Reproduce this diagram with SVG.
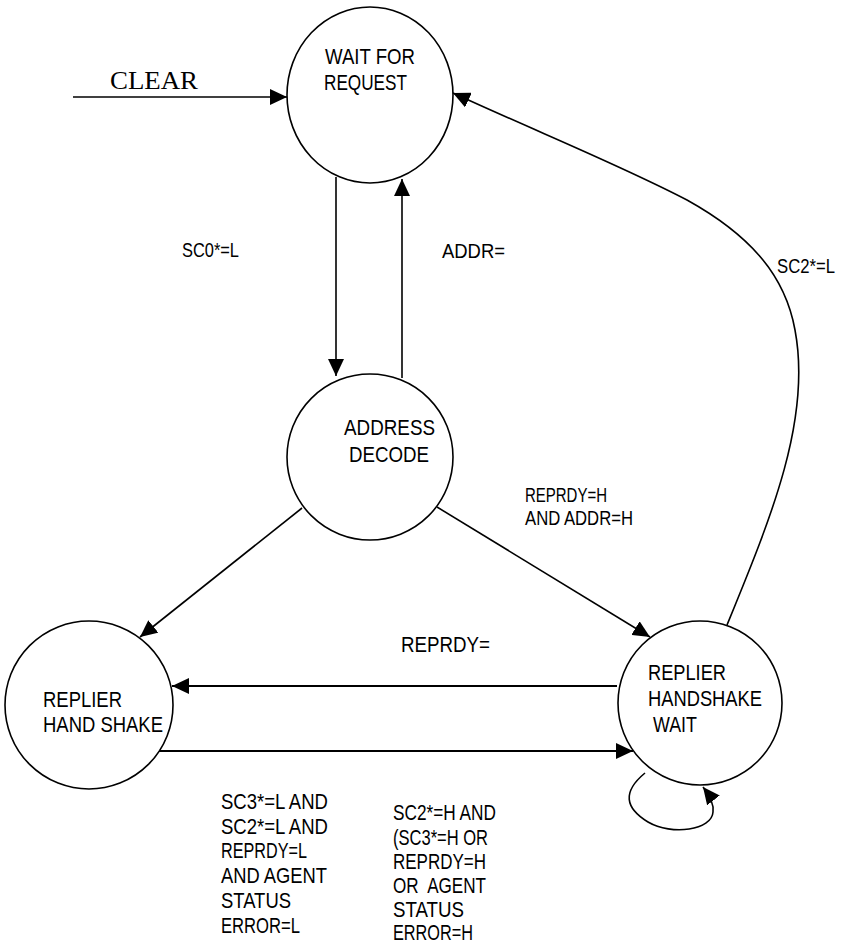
<svg xmlns="http://www.w3.org/2000/svg" width="845" height="945" viewBox="0 0 845 945">
<style>
.node{fill:#fff;stroke:#000;stroke-width:1.6}
.t{font-family:"Liberation Sans",Arial,sans-serif;font-size:22px;fill:#000}
.s{font-size:20px}
.serif{font-family:"Liberation Serif","Times New Roman",serif;font-size:25px;fill:#000}
.c{fill:none;stroke:#000;stroke-width:1.6;marker-end:url(#ah)}
.thick{stroke-width:2.2}
</style>
<defs>
<marker id="ah" markerUnits="userSpaceOnUse" markerWidth="17" markerHeight="16" viewBox="0 0 17 16" refX="17" refY="8" orient="auto">
<path d="M0,0 L17,8 L0,16 Z" fill="#000"/>
</marker>
</defs>
<rect width="845" height="945" fill="#fff"/>
<g id="connectors">
<path class="c" d="M73,97 L287,97"/>
<path class="c" d="M336,177 L336,376"/>
<path class="c" d="M402,378 L402,179"/>
<path class="c" d="M302,508 L140,637"/>
<path class="c" d="M437,507 L650,637"/>
<path class="c thick" d="M617,686 L172,686"/>
<path class="c thick" d="M157,751 L633,751"/>
<path class="c" d="M727,625 C770,520 812,420 795,330 C785,275 750,235 687,200 C620,165 540,133 453,93"/>
<path class="c" d="M645,773 C622,792 625,808 648,822 C672,836 712,830 713,812 C714,805 710,796 703,787"/>
</g>
<g id="clear-label">
<text class="serif" x="110" y="89" textLength="88" lengthAdjust="spacingAndGlyphs">CLEAR</text>
</g>
<g id="wait-for-request">
<ellipse class="node" cx="370" cy="95" rx="83" ry="88"/>
<text class="t" x="325" y="64" textLength="90" lengthAdjust="spacingAndGlyphs">WAIT FOR</text>
<text class="t" x="324" y="90" textLength="83" lengthAdjust="spacingAndGlyphs">REQUEST</text>
</g>
<g id="address-decode">
<circle class="node" cx="370" cy="457" r="83"/>
<text class="t" x="344" y="435" textLength="91" lengthAdjust="spacingAndGlyphs">ADDRESS</text>
<text class="t" x="349" y="462" textLength="80" lengthAdjust="spacingAndGlyphs">DECODE</text>
</g>
<g id="replier-hand-shake">
<circle class="node" cx="89" cy="705" r="84"/>
<text class="t" x="43" y="707" textLength="79" lengthAdjust="spacingAndGlyphs">REPLIER</text>
<text class="t" x="43" y="732" textLength="120" lengthAdjust="spacingAndGlyphs">HAND SHAKE</text>
</g>
<g id="replier-handshake-wait">
<circle class="node" cx="700" cy="703" r="82"/>
<text class="t" x="648" y="680" textLength="78" lengthAdjust="spacingAndGlyphs">REPLIER</text>
<text class="t" x="648" y="706" textLength="114" lengthAdjust="spacingAndGlyphs">HANDSHAKE</text>
<text class="t" x="653" y="732" textLength="44" lengthAdjust="spacingAndGlyphs">WAIT</text>
</g>
<g id="labels">
<text class="t s" x="182" y="257" textLength="57" lengthAdjust="spacingAndGlyphs">SC0*=L</text>
<text class="t s" x="442" y="258" textLength="63" lengthAdjust="spacingAndGlyphs">ADDR=</text>
<text class="t s" x="777" y="273" textLength="58" lengthAdjust="spacingAndGlyphs">SC2*=L</text>
<text class="t s" x="525" y="502" textLength="82" lengthAdjust="spacingAndGlyphs">REPRDY=H</text>
<text class="t s" x="525" y="525" textLength="108" lengthAdjust="spacingAndGlyphs">AND ADDR=H</text>
<text class="t" x="401" y="652" textLength="89" lengthAdjust="spacingAndGlyphs">REPRDY=</text>
<text class="t" x="221" y="809" textLength="107" lengthAdjust="spacingAndGlyphs">SC3*=L AND</text>
<text class="t" x="221" y="834" textLength="107" lengthAdjust="spacingAndGlyphs">SC2*=L AND</text>
<text class="t" x="221" y="858" textLength="86" lengthAdjust="spacingAndGlyphs">REPRDY=L</text>
<text class="t" x="221" y="883" textLength="106" lengthAdjust="spacingAndGlyphs">AND AGENT</text>
<text class="t" x="221" y="908" textLength="70" lengthAdjust="spacingAndGlyphs">STATUS</text>
<text class="t" x="221" y="933" textLength="79" lengthAdjust="spacingAndGlyphs">ERROR=L</text>
<text class="t" x="393" y="820" textLength="103" lengthAdjust="spacingAndGlyphs">SC2*=H AND</text>
<text class="t" x="393" y="845" textLength="95" lengthAdjust="spacingAndGlyphs">(SC3*=H OR</text>
<text class="t" x="393" y="869" textLength="93" lengthAdjust="spacingAndGlyphs">REPRDY=H</text>
<text class="t" x="393" y="893" textLength="93" lengthAdjust="spacingAndGlyphs" xml:space="preserve">OR  AGENT</text>
<text class="t" x="393" y="917" textLength="71" lengthAdjust="spacingAndGlyphs">STATUS</text>
<text class="t" x="393" y="940" textLength="80" lengthAdjust="spacingAndGlyphs">ERROR=H</text>
</g>
</svg>
